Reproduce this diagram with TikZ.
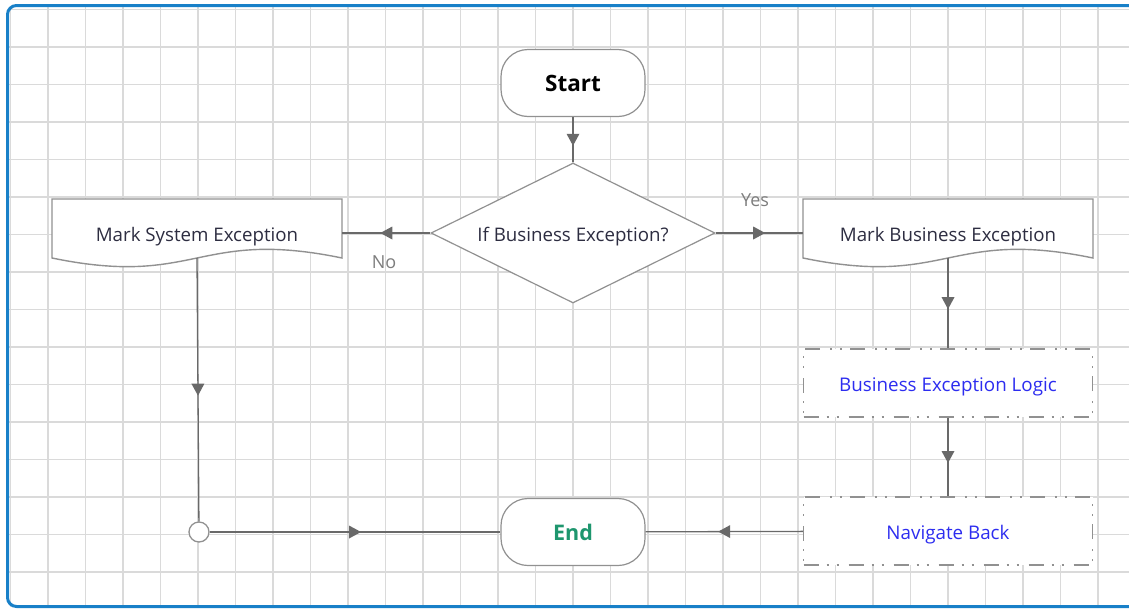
\documentclass[tikz,border=0pt]{standalone}
\usepackage{fontspec}
\setmainfont{Open Sans}
\usetikzlibrary{shapes.geometric,decorations.markings,arrows.meta}
\definecolor{frameblue}{RGB}{24,128,200}
\definecolor{gridgray}{RGB}{218,218,218}
\definecolor{shapegray}{RGB}{145,145,145}
\definecolor{linegray}{RGB}{105,105,105}
\definecolor{txtdark}{RGB}{45,45,65}
\definecolor{bluetxt}{RGB}{45,45,240}
\definecolor{endgreen}{RGB}{30,150,110}
\definecolor{lblgray}{RGB}{125,125,125}
\tikzset{
  gridline/.style={draw=gridgray, line width=1.4pt},
  conn/.style={draw=linegray, line width=1.3pt, postaction={decorate},
    decoration={markings, mark=at position 0.5 with {\fill[linegray] (-6pt,-6.5pt) -- (6pt,0pt) -- (-6pt,6.5pt) -- cycle;}}},
  term/.style={draw=shapegray, line width=1.2pt, rounded corners=27pt, fill=white,
    minimum width=144pt, minimum height=67pt, inner sep=0pt},
  lowtext/.style={text height=17.8pt, text depth=0pt},
  decision/.style={diamond, draw=shapegray, line width=1.2pt, fill=white, aspect=2.03,
    minimum width=284pt, minimum height=140pt, inner sep=0pt, text=txtdark, lowtext,
    font=\fontsize{18.7pt}{20pt}\selectfont},
  docline/.style={draw=shapegray, line width=1.4pt, fill=white},
  doctext/.style={minimum width=290pt, minimum height=50pt, inner sep=0pt, text=txtdark, lowtext,
    font=\fontsize{18.7pt}{20pt}\selectfont},
  procbox/.style={draw=shapegray, line width=1.5pt, fill=white,
    dash pattern=on 15pt off 8pt on 2pt off 8pt on 2pt off 10pt,
    minimum width=289pt, minimum height=68pt, inner sep=0pt, text=bluetxt, lowtext,
    font=\fontsize{18.8pt}{20pt}\selectfont},
  junction/.style={circle, draw=shapegray, line width=1.3pt, fill=white, minimum size=20pt, inner sep=0pt},
  lbl/.style={text=lblgray, inner sep=0pt, font=\fontsize{18pt}{20pt}\selectfont}
}
\newcommand\mydoc[4]{%
  \draw[docline] ({#2-145},{#3+25}) -- ({#2-145},{#3-34}) -- ({#2+145},{#3-34}) -- ({#2+145},{#3+25})
    .. controls ({#2},{#3-5}) and ({#2},{#3+55}) .. ({#2-145},{#3+25}) -- cycle;
  \node[doctext] (#1) at (#2,#3) {#4};
  \coordinate (#1-b) at (#2,{#3+25});
}
\begin{document}
\begin{tikzpicture}[x=1pt,y=-1pt]
\useasboundingbox (0,0) rectangle (1129,608);
% frame and grid
\fill[white] (0,0) rectangle (1129,608);
\fill[white, rounded corners=9pt] (7.5,5.5) rectangle (1160,606.5);
\begin{scope}
  \clip (8,6) rectangle (1129,606);
  \foreach \i in {0,...,30} \draw[gridline] ({10.5+37.5*\i},0) -- ({10.5+37.5*\i},608);
  \foreach \j in {0,...,16} \draw[gridline] (0,{9.5+37.5*\j}) -- (1129,{9.5+37.5*\j});
\end{scope}
\draw[draw=frameblue, line width=3pt, rounded corners=9pt] (7.5,5.5) rectangle (1160,606.5);
% shapes
\node[term, font=\fontsize{22.5pt}{24pt}\selectfont\bfseries] (start) at (573,83) {Start};
\node[decision] (dec) at (573,233) {If Business Exception?};
\mydoc{mse}{197}{233}{Mark System Exception}
\mydoc{mbe}{948}{233}{Mark Business Exception}
\node[procbox] (bel) at (948,383) {Business Exception Logic};
\node[procbox] (nb) at (948,531) {Navigate Back};
\node[term, text=endgreen, font=\fontsize{21.5pt}{24pt}\selectfont\bfseries] (endn) at (573,532) {End};
\node[junction] (jn) at (199,532) {};
% connectors
\draw[conn] (start) -- (dec);
\draw[conn] (dec.east) -- (mbe.west);
\draw[conn] (dec.west) -- (mse.east);
\draw[conn] (mse-b) -- (jn);
\draw[conn] (jn) -- (endn);
\draw[conn] (mbe-b) -- (bel);
\draw[conn] (bel) -- (nb);
\draw[conn] (nb) -- (endn);
% labels
\node[lbl] (yes) at (755,200) {Yes};
\node[lbl] (no) at (384,262) {No};
\end{tikzpicture}
\end{document}
